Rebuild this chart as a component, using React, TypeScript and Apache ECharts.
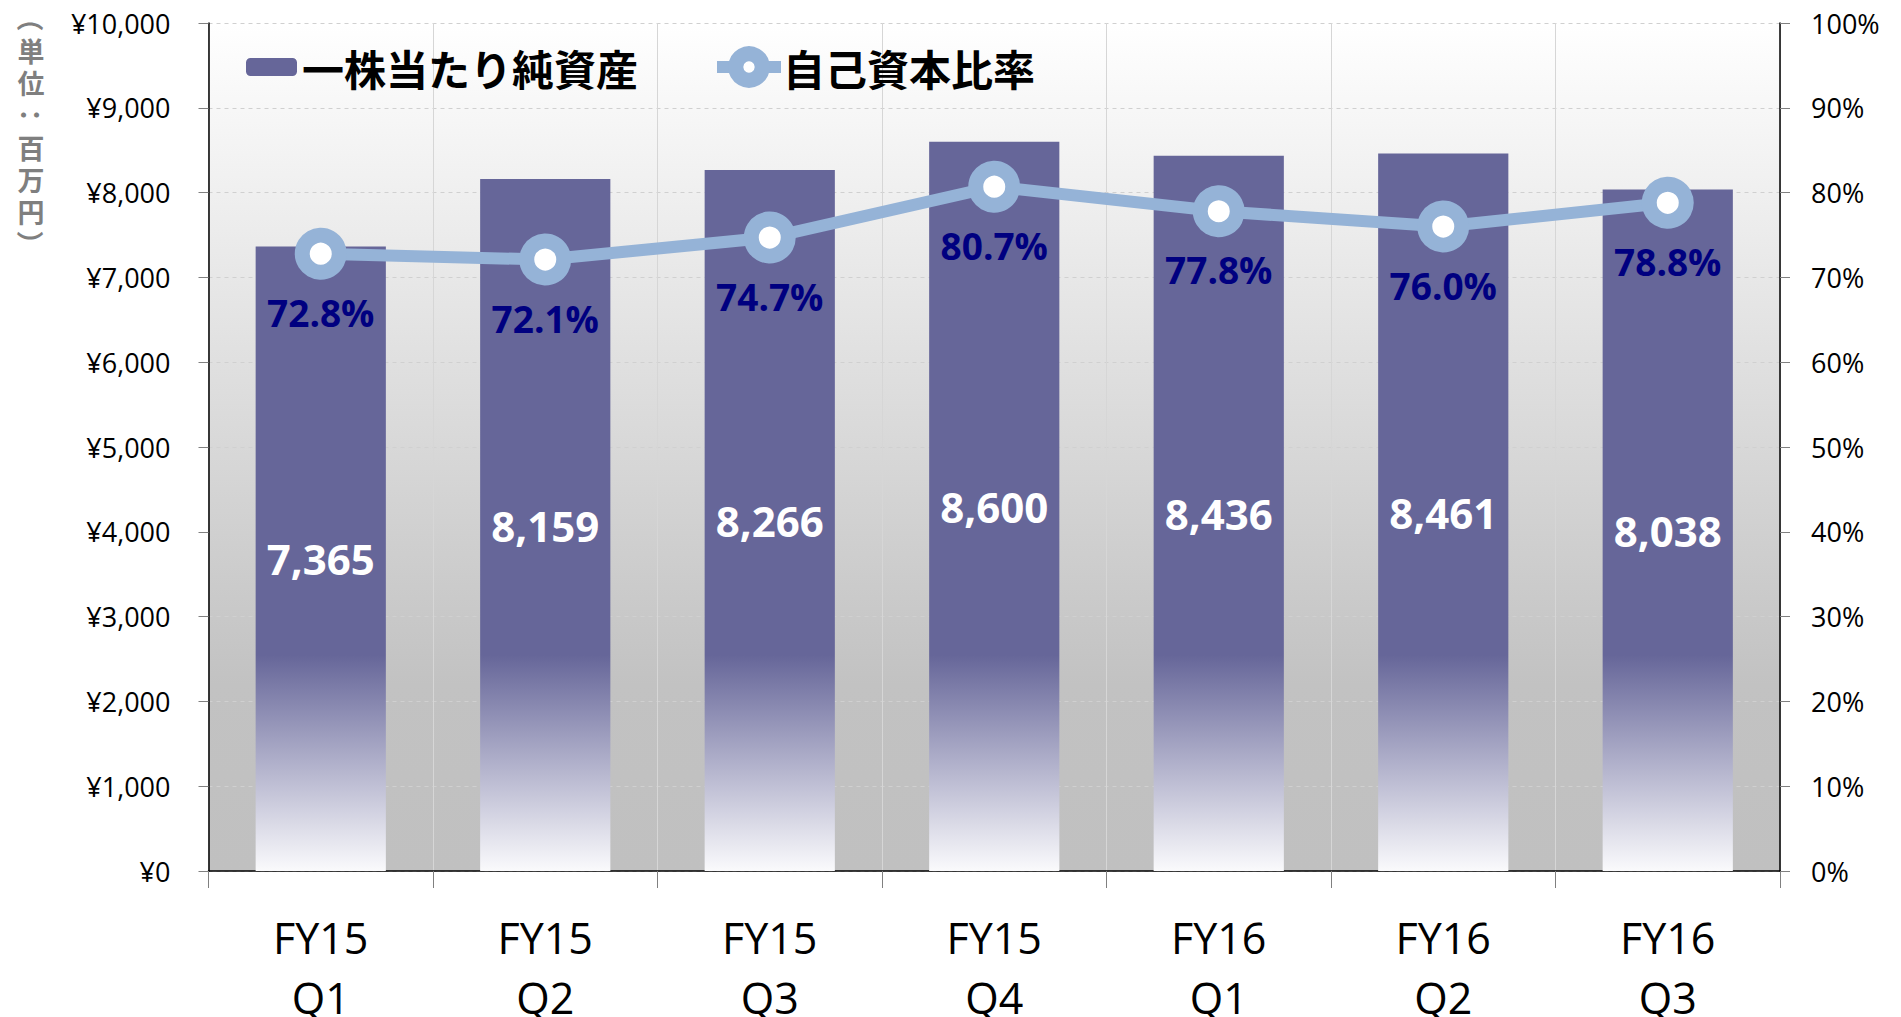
import React, { useEffect, useRef } from "react";
import * as echarts from "echarts";

const fiscalYears = ["FY15", "FY15", "FY15", "FY15", "FY16", "FY16", "FY16"];
const quarters = ["Q1", "Q2", "Q3", "Q4", "Q1", "Q2", "Q3"];
const netAssetsPerShare = [7365, 8159, 8266, 8600, 8436, 8461, 8038];
const equityRatio = [72.8, 72.1, 74.7, 80.7, 77.8, 76.0, 78.8];
const barName = "一株当たり純資産";
const lineName = "自己資本比率";
const unitChars = ["（", "単", "位", "：", "百", "万", "円", "）"];

const categories = fiscalYears.map((fy, i) => fy + "\n" + quarters[i]);

const LATIN = '"Open Sans", "Noto Sans CJK JP", sans-serif';
const CJK = '"Noto Sans CJK JP", sans-serif';

export default function App() {
  const ref = useRef<HTMLDivElement>(null);
  useEffect(() => {
    if (!ref.current) return;
    const chart = echarts.init(ref.current, null, { renderer: "svg" });
    const barGradient = {
      type: "linear",
      x: 0,
      y: 655,
      x2: 0,
      y2: 871,
      global: true,
      colorStops: [
        { offset: 0, color: "#666699" },
        { offset: 1, color: "#FAFAFC" },
      ],
    };
    const bgGradient = {
      type: "linear",
      x: 0,
      y: 0,
      x2: 0,
      y2: 1,
      colorStops: [
        { offset: 0, color: "#FFFFFF" },
        { offset: 0.78, color: "#C2C2C2" },
        { offset: 1, color: "#C0C0C0" },
      ],
    };
    chart.setOption({
      animation: false,
      backgroundColor: "#FFFFFF",
      grid: {
        left: 208.5,
        right: 121,
        top: 23,
        bottom: 146,
        show: true,
        borderWidth: 0,
        backgroundColor: bgGradient,
        containLabel: false,
        outerBoundsMode: "none",
      },
      legend: [
        {
          data: [barName],
          left: 246,
          top: 46,
          padding: 0,
          itemWidth: 51,
          itemHeight: 18,
          textStyle: { fontFamily: CJK, fontSize: 42, fontWeight: "bold", color: "#000" },
        },
        {
          data: [lineName],
          left: 711,
          top: 46,
          padding: 0,
          itemWidth: 64,
          itemHeight: 33,
          textStyle: { fontFamily: CJK, fontSize: 42, fontWeight: "bold", color: "#000", padding: [0, 0, 0, -3] },
          itemStyle: { borderWidth: 15 },
          lineStyle: { width: 12 },
        },
      ],
      graphic: unitChars.map((c, i) => ({
        type: "text",
        x: 31,
        y: 18 + i * 32.3,
        rotation: c === "（" || c === "）" || c === "：" ? -Math.PI / 2 : 0,
        style: {
          text: c,
          font: `bold 27px ${CJK}`,
          lineHeight: 29,
          fill: "#7F7F7F",
          align: "center",
          verticalAlign: "middle",
        },
      })),
      xAxis: {
        type: "category",
        data: categories,
        axisLine: { lineStyle: { color: "#000", width: 1.5 } },
        axisTick: { show: true, interval: 0, length: 17, lineStyle: { color: "#808080" } },
        axisLabel: {
          interval: 0,
          fontFamily: LATIN,
          fontSize: 43,
          color: "#000",
          margin: 26,
          formatter: (v: string) => {
            const [fy, q] = v.split("\n");
            return "{a|" + fy + "}\n{b|" + q + "}";
          },
          rich: {
            a: { fontFamily: LATIN, fontSize: 43, color: "#000", lineHeight: 80 },
            b: { fontFamily: LATIN, fontSize: 43, color: "#000", lineHeight: 40 },
          },
        },
        splitLine: { show: true, interval: 0, lineStyle: { color: "#D6D6D6", width: 1 } },
      },
      yAxis: [
        {
          type: "value",
          min: 0,
          max: 10000,
          interval: 1000,
          axisLine: { show: true, lineStyle: { color: "#000", width: 1.5 } },
          axisTick: { show: true, length: 10, lineStyle: { color: "#808080" } },
          axisLabel: {
            fontFamily: LATIN,
            fontSize: 27,
            color: "#000",
            margin: 38,
            formatter: (v: number) => "¥" + v.toLocaleString("en-US"),
          },
          splitLine: { show: true, lineStyle: { color: "#D0D0D0", type: [4, 4], width: 1 } },
        },
        {
          type: "value",
          min: 0,
          max: 100,
          interval: 10,
          position: "right",
          axisLine: { show: true, lineStyle: { color: "#000", width: 1.5 } },
          axisTick: { show: true, length: 10, lineStyle: { color: "#808080" } },
          axisLabel: {
            fontFamily: LATIN,
            fontSize: 27,
            color: "#000",
            margin: 31,
            formatter: "{value}%",
          },
          splitLine: { show: false },
        },
      ],
      series: [
        {
          name: barName,
          type: "bar",
          data: netAssetsPerShare,
          barWidth: "58%",
          itemStyle: { color: barGradient },
          label: {
            show: true,
            position: "inside",
            color: "#FFFFFF",
            fontFamily: LATIN,
            fontWeight: "bold",
            fontSize: 42,
            formatter: (p: any) => Number(p.value).toLocaleString("en-US"),
          },
          z: 2,
        },
        {
          name: lineName,
          type: "line",
          yAxisIndex: 1,
          data: equityRatio,
          symbol: "circle",
          symbolSize: 37,
          lineStyle: { color: "#95B3D7", width: 12 },
          itemStyle: { color: "#FFFFFF", borderColor: "#95B3D7", borderWidth: 15 },
          label: {
            show: true,
            position: "bottom",
            distance: 14,
            color: "#000080",
            fontFamily: LATIN,
            fontWeight: "bold",
            fontSize: 37,
            formatter: (p: any) => Number(p.value).toFixed(1) + "%",
          },
          z: 3,
        },
      ],
    });
    return () => chart.dispose();
  }, []);
  return (
    <div
      ref={ref}
      style={{ position: "fixed", left: 0, top: 0, width: 1901, height: 1017 }}
    />
  );
}
